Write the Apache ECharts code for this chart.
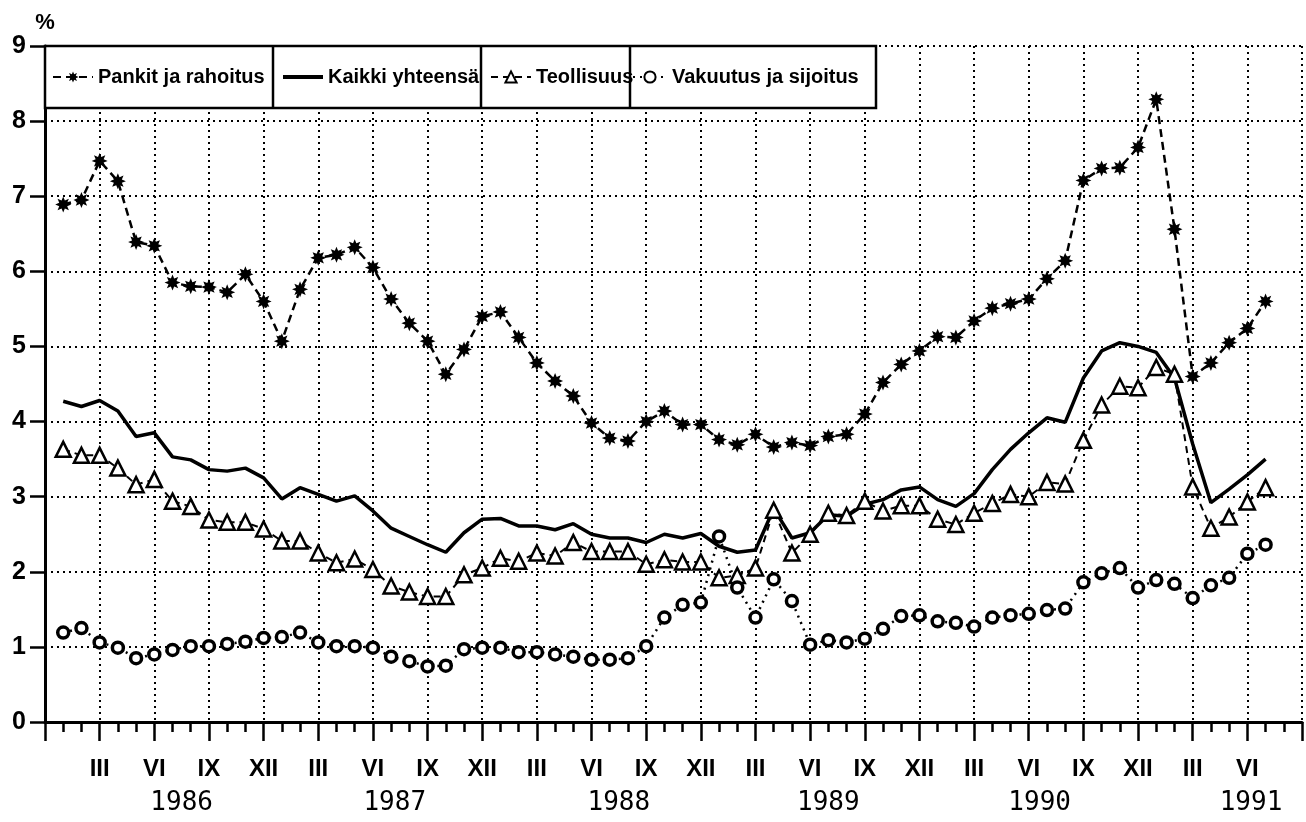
<!DOCTYPE html>
<html>
<head>
<meta charset="utf-8">
<script src="https://cdn.jsdelivr.net/npm/echarts@6/dist/echarts.min.js"></script>
<style>html,body{margin:0;padding:0;background:#fff}#c{width:1306px;height:822px}</style>
</head>
<body>
<div id="c"></div>
<script>
// Monthly values, Jan 1986 (month 1) .. Jul 1991 (month 67)
const pankit = [6.89,6.95,7.47,7.20,6.39,6.34,5.85,5.80,5.79,5.72,5.96,5.60,
  5.07,5.76,6.18,6.22,6.32,6.05,5.63,5.31,5.07,4.63,4.96,5.40,
  5.46,5.12,4.78,4.54,4.34,3.98,3.78,3.74,4.00,4.14,3.96,3.96,
  3.76,3.69,3.83,3.66,3.72,3.68,3.80,3.83,4.10,4.52,4.76,4.94,
  5.13,5.12,5.34,5.51,5.57,5.63,5.90,6.14,7.21,7.37,7.38,7.65,
  8.29,6.56,4.60,4.78,5.05,5.24,5.60];
const kaikki = [4.27,4.20,4.28,4.14,3.80,3.85,3.53,3.49,3.36,3.34,3.38,3.25,
  2.97,3.12,3.03,2.94,3.01,2.81,2.58,2.47,2.36,2.26,2.52,2.70,
  2.71,2.61,2.61,2.56,2.64,2.50,2.45,2.45,2.39,2.50,2.45,2.51,
  2.34,2.26,2.29,2.84,2.45,2.52,2.76,2.74,2.90,2.96,3.09,3.13,
  2.96,2.87,3.04,3.36,3.63,3.85,4.05,3.99,4.58,4.94,5.05,5.00,
  4.92,4.58,3.70,2.92,3.10,3.29,3.50];
const teollisuus = [3.63,3.55,3.55,3.38,3.16,3.23,2.94,2.87,2.69,2.66,2.66,2.57,
  2.41,2.41,2.25,2.12,2.17,2.03,1.81,1.73,1.67,1.67,1.96,2.05,
  2.18,2.14,2.25,2.21,2.39,2.27,2.27,2.27,2.10,2.16,2.13,2.13,
  1.92,1.95,2.05,2.82,2.25,2.50,2.78,2.75,2.94,2.81,2.88,2.88,
  2.70,2.63,2.78,2.91,3.03,3.00,3.19,3.17,3.75,4.22,4.47,4.45,
  4.72,4.63,3.13,2.58,2.73,2.93,3.12];
const vakuutus = [1.19,1.25,1.06,0.99,0.85,0.90,0.96,1.01,1.01,1.04,1.07,1.12,
  1.13,1.19,1.06,1.01,1.01,0.99,0.87,0.81,0.74,0.75,0.97,0.99,
  0.99,0.93,0.93,0.90,0.87,0.83,0.83,0.85,1.01,1.39,1.56,1.59,
  2.47,1.79,1.39,1.90,1.61,1.03,1.09,1.06,1.11,1.24,1.41,1.42,
  1.34,1.32,1.27,1.39,1.42,1.44,1.49,1.51,1.86,1.98,2.05,1.79,
  1.89,1.84,1.65,1.82,1.92,2.24,2.36];

const seriesNames = ['Pankit ja rahoitus','Kaikki yhteensä','Teollisuus','Vakuutus ja sijoitus'];
const quarterLabels = {3:'III',6:'VI',9:'IX',0:'XII'};
const yearLabels = ['1986','1987','1988','1989','1990','1991'];
const yearLabelMonths = [7.5,19.2,31.5,43,54.6,66.2];
const yTicks = ['0','1','2','3','4','5','6','7','8','9'];
const firstMonth = 1, lastAxisMonth = 69;

const toPairs = arr => arr.map((v,i)=>[firstMonth+i, v]);
const asterisk = 'path://M100 50 L74.9 60.3 L85.4 85.4 L60.3 74.9 L50 100 L39.7 74.9 L14.6 85.4 L25.1 60.3 L0 50 L25.1 39.7 L14.6 14.6 L39.7 25.1 L50 0 L60.3 25.1 L85.4 14.6 L74.9 39.7 Z';
const sans = "'Liberation Sans',Arial,sans-serif";

const chart = echarts.init(document.getElementById('c'), null, {renderer:'canvas'});
const legendBase = {
  orient:'horizontal', top:65, padding:0, itemWidth:40, itemHeight:14, z:60,
  selectedMode:false,
  textStyle:{fontFamily:sans, fontWeight:'bold', fontSize:20, color:'#000', lineHeight:24}
};
chart.setOption({
  animation:false,
  backgroundColor:'#fff',
  grid:{left:45, right:4, top:46, bottom:100, containLabel:false},
  xAxis:[{
    type:'value', min:0, max:lastAxisMonth, interval:3,
    axisLine:{show:true, onZero:false, lineStyle:{color:'#000', width:3}},
    axisTick:{show:true, length:19, lineStyle:{color:'#000', width:2.5}},
    minorTick:{show:true, splitNumber:3, length:10, lineStyle:{color:'#000', width:2.5}},
    splitLine:{show:true, lineStyle:{color:'#000', width:2, type:[2,4]}},
    axisLabel:{
      margin:35, fontFamily:sans, fontWeight:'bold', fontSize:24, color:'#000',
      formatter:v => (v<=0 || v>=lastAxisMonth) ? '' : (quarterLabels[v%12] || '')
    }
  },{
    type:'value', min:0, max:lastAxisMonth, position:'bottom',
    axisLine:{show:false}, axisTick:{show:false}, splitLine:{show:false},
    axisLabel:{
      margin:68, fontFamily:"'DejaVu Sans Mono',monospace", fontSize:26, color:'#000',
      customValues:yearLabelMonths,
      formatter:v => { const k = yearLabelMonths.indexOf(v); return k>=0 ? yearLabels[k] : ''; }
    }
  }],
  yAxis:{
    type:'value', min:0, max:9, interval:1,
    name:'%', nameLocation:'end', nameGap:12,
    nameTextStyle:{fontFamily:sans, fontWeight:'bold', fontSize:22, color:'#000', align:'center'},
    axisLine:{show:true, lineStyle:{color:'#000', width:3}},
    axisTick:{show:true, length:15, lineStyle:{color:'#000', width:2.5}},
    splitLine:{show:true, lineStyle:{color:'#000', width:2, type:[2,4]}},
    axisLabel:{margin:19, fontFamily:sans, fontWeight:'bold', fontSize:25, color:'#000',
      formatter:v => yTicks[v] !== undefined ? yTicks[v] : ''}
  },
  legend:[
    Object.assign({}, legendBase, {left:52, data:[seriesNames[0]]}),
    Object.assign({}, legendBase, {left:283, itemWidth:40, itemHeight:4, data:[{name:seriesNames[1], icon:'rect'}]}),
    Object.assign({}, legendBase, {left:490, data:[seriesNames[2]]}),
    Object.assign({}, legendBase, {left:632, itemWidth:34, data:[seriesNames[3]]})
  ],
  graphic:[
    {type:'rect', z:50, shape:{x:45, y:46, width:831, height:62}, style:{fill:'#fff', stroke:'#000', lineWidth:2.5}},
    {type:'line', z:51, shape:{x1:273, y1:46, x2:273, y2:108}, style:{stroke:'#000', lineWidth:2.5}},
    {type:'line', z:51, shape:{x1:481, y1:46, x2:481, y2:108}, style:{stroke:'#000', lineWidth:2.5}},
    {type:'line', z:51, shape:{x1:630, y1:46, x2:630, y2:108}, style:{stroke:'#000', lineWidth:2.5}}
  ],
  series:[
    {name:seriesNames[0], type:'line', data:toPairs(pankit), showAllSymbol:true,
      symbol:asterisk, symbolSize:16,
      lineStyle:{color:'#000', width:2.5, type:[8,5]},
      itemStyle:{color:'#000'}},
    {name:seriesNames[1], type:'line', data:toPairs(kaikki), symbol:'none', showSymbol:false,
      lineStyle:{color:'#000', width:3.5, type:'solid'},
      itemStyle:{color:'#000'}},
    {name:seriesNames[2], type:'line', data:toPairs(teollisuus), showAllSymbol:true,
      symbol:'triangle', symbolSize:15,
      lineStyle:{color:'#000', width:2, type:[7,5]},
      itemStyle:{color:'#fff', borderColor:'#000', borderWidth:2.5}},
    {name:seriesNames[3], type:'line', data:toPairs(vakuutus), showAllSymbol:true,
      symbol:'circle', symbolSize:11,
      lineStyle:{color:'#000', width:2.5, type:[2,5]},
      itemStyle:{color:'#fff', borderColor:'#000', borderWidth:3.5}}
  ]
});
</script>
</body>
</html>
